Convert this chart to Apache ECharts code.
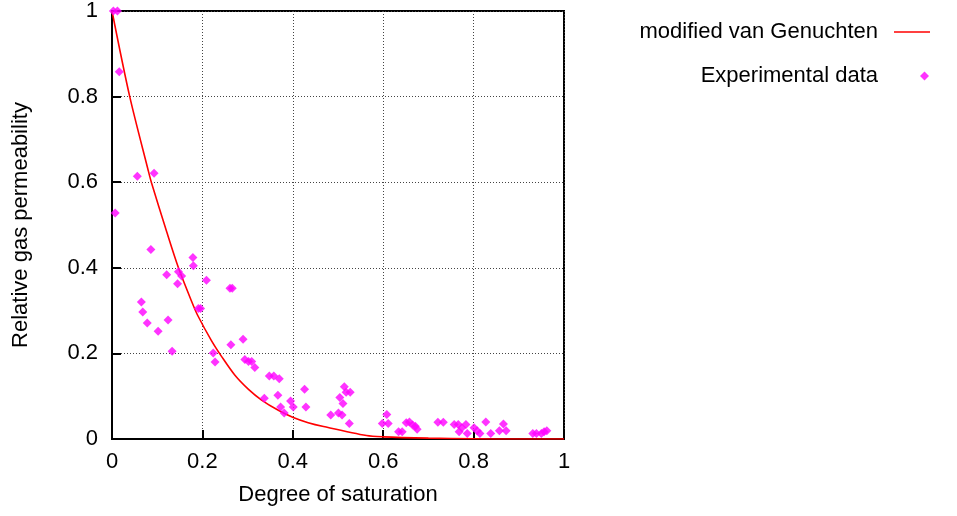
<!DOCTYPE html>
<html>
<head>
<meta charset="utf-8">
<script src="https://cdn.jsdelivr.net/npm/echarts@6/dist/echarts.min.js"></script>
<style>
html,body{margin:0;padding:0;background:#fff;}
#chart{width:957px;height:516px;}
</style>
</head>
<body>
<div id="chart"></div>
<script>
// Series names
const lineName = 'modified van Genuchten';
const dataName = 'Experimental data';

// Axis tick values
const xTicks = [0, 0.2, 0.4, 0.6, 0.8, 1];
const yTicks = [0, 0.2, 0.4, 0.6, 0.8, 1];

// Fitted curve: degree of saturation
const curveX = [0, 0.039, 0.080, 0.087, 0.121, 0.147, 0.176, 0.190, 0.220, 0.243, 0.272, 0.302, 0.331, 0.368, 0.401, 0.434, 0.468, 0.563, 0.6, 0.7, 0.8, 0.9, 1];
// relative gas permeability
const curveY = [1, 0.801, 0.628, 0.6, 0.484, 0.4, 0.322, 0.288, 0.230, 0.192, 0.149, 0.116, 0.091, 0.067, 0.050, 0.038, 0.029, 0.008, 0.005, 0.002, 0.0005, 0, 0];

// Experimental data
const expX = [0.003, 0.012, 0.016, 0.056, 0.093, 0.007, 0.086, 0.180, 0.179, 0.147, 0.154, 0.121, 0.145, 0.209, 0.261, 0.266,
  0.065, 0.068, 0.078, 0.102, 0.124, 0.133, 0.191, 0.196, 0.224, 0.228, 0.263, 0.290, 0.294, 0.302, 0.309, 0.316,
  0.348, 0.358, 0.370, 0.337, 0.367, 0.373, 0.381, 0.395, 0.401, 0.426, 0.429,
  0.484, 0.501, 0.509, 0.504, 0.511, 0.514, 0.518, 0.527, 0.525,
  0.598, 0.608, 0.611, 0.634, 0.642, 0.651, 0.658, 0.665, 0.671, 0.675,
  0.721, 0.733, 0.757, 0.766, 0.768, 0.774, 0.783, 0.786, 0.801, 0.808, 0.814, 0.827, 0.838, 0.857, 0.866, 0.872,
  0.931, 0.939, 0.950, 0.956, 0.962];
const expY = [1.0, 1.0, 0.858, 0.614, 0.621, 0.528, 0.443, 0.405, 0.424, 0.391, 0.381, 0.384, 0.363, 0.371, 0.352, 0.352,
  0.320, 0.297, 0.271, 0.252, 0.278, 0.205, 0.305, 0.305, 0.201, 0.180, 0.220, 0.233, 0.186, 0.181, 0.181, 0.167,
  0.147, 0.147, 0.141, 0.095, 0.102, 0.075, 0.061, 0.089, 0.075, 0.116, 0.075,
  0.056, 0.061, 0.056, 0.097, 0.083, 0.122, 0.109, 0.109, 0.036,
  0.036, 0.057, 0.036, 0.017, 0.017, 0.038, 0.040, 0.033, 0.030, 0.023,
  0.039, 0.039, 0.034, 0.034, 0.017, 0.026, 0.034, 0.013, 0.026, 0.019, 0.013, 0.040, 0.013, 0.019, 0.035, 0.019,
  0.013, 0.013, 0.013, 0.017, 0.019];

const font = '"Liberation Sans", Arial, sans-serif';
const chart = echarts.init(document.getElementById('chart'), null, {renderer: 'canvas'});

const curveData = curveX.map((x, i) => [x, curveY[i]]);
const expData = expX.map((x, i) => [x, expY[i]]);

const axisCommon = {
  type: 'value', min: xTicks[0], max: xTicks[xTicks.length - 1], interval: xTicks[1] - xTicks[0],
  axisLine: {show: true, lineStyle: {color: '#000', width: 2}},
  axisTick: {show: true, inside: true, length: 9, lineStyle: {color: '#000', width: 2}},
  splitLine: {show: true, lineStyle: {color: '#444', width: 1, type: [1, 2]}},
  axisLabel: {color: '#000', fontSize: 22, fontFamily: font},
  nameTextStyle: {color: '#000', fontSize: 22, fontFamily: font},
  nameLocation: 'middle'
};

chart.setOption({
  animation: false,
  backgroundColor: '#fff',
  grid: {left: 112, right: 393, top: 9, bottom: 77, show: true, borderColor: '#000', borderWidth: 2, containLabel: false},
  xAxis: Object.assign({}, axisCommon, {
    name: 'Degree of saturation', nameGap: 45,
    axisLabel: Object.assign({}, axisCommon.axisLabel, {margin: 12})
  }),
  yAxis: Object.assign({}, axisCommon, {
    min: yTicks[0], max: yTicks[yTicks.length - 1], interval: yTicks[1] - yTicks[0],
    name: 'Relative gas permeability', nameGap: 80,
    axisLabel: Object.assign({}, axisCommon.axisLabel, {margin: 14})
  }),
  legend: [
    {
      data: [{name: lineName, icon: 'rect'}], orient: 'vertical', align: 'right', right: 27, top: 21, padding: 0,
      itemWidth: 36, itemHeight: 1.6,
      itemStyle: {color: '#ff0000'},
      textStyle: {color: '#000', fontSize: 22, fontFamily: font, padding: [0, 11, 0, 0]}
    },
    {
      data: [{name: dataName, icon: 'diamond'}], orient: 'vertical', align: 'right', right: 28, top: 65, padding: 0,
      itemWidth: 9, itemHeight: 9,
      textStyle: {color: '#000', fontSize: 22, fontFamily: font, padding: [0, 37, 0, 0]}
    }
  ],
  series: [
    {
      name: lineName, type: 'line', data: curveData, smooth: 0.3, symbol: 'none', showSymbol: false,
      lineStyle: {color: '#ff0000', width: 1.6}, itemStyle: {color: '#ff0000'}, z: 3
    },
    {
      name: dataName, type: 'scatter', data: expData, symbol: 'diamond', symbolSize: 9,
      itemStyle: {color: '#ff00ff'}, z: 4
    }
  ]
});
</script>
</body>
</html>
